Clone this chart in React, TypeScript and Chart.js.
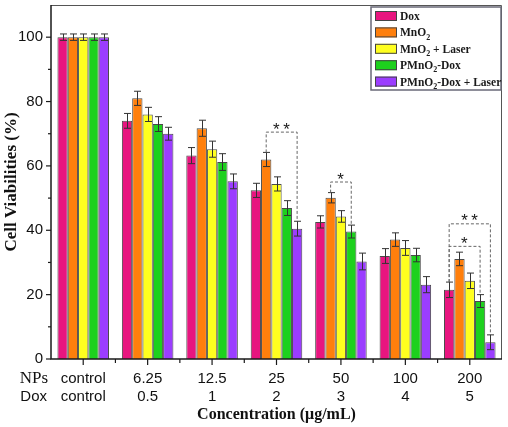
import React, { useEffect, useRef } from "react";
import { Chart, registerables } from "chart.js";
Chart.register(...registerables);

// ---------- data ----------
const npLabels = ["control", "6.25", "12.5", "25", "50", "100", "200"];
const doxLabels = ["control", "0.5", "1", "2", "3", "4", "5"];
const seriesNames = ["Dox", "MnO₂", "MnO₂ + Laser", "PMnO₂-Dox", "PMnO₂-Dox + Laser"];
const seriesColors = ["#E8157F", "#FF7F0C", "#FFFF1F", "#1DD11D", "#9B3DFF"];

const doxValues = [100, 74, 63.2, 52.4, 42.6, 32, 21.5];
const doxErrors = [1, 2.3, 2.5, 2.2, 1.9, 2.3, 2.4];
const mnoValues = [100, 81, 71.7, 62, 50.1, 37.1, 31.1];
const mnoErrors = [1, 2.2, 2.5, 2.2, 1.6, 2.1, 2.1];
const mnoLaserValues = [100, 76, 65.2, 54.4, 44.3, 34.5, 24.3];
const mnoLaserErrors = [1, 2.2, 2.5, 2.2, 1.8, 2.3, 2.4];
const pmnoDoxValues = [100, 73, 61.2, 46.9, 39.6, 32.3, 18];
const pmnoDoxErrors = [1, 2.3, 2.6, 2.3, 2.0, 2.1, 2.0];
const pmnoDoxLaserValues = [100, 70, 55.2, 40.5, 30.3, 23.1, 5.2];
const pmnoDoxLaserErrors = [1, 2.0, 2.3, 2.3, 2.6, 2.5, 2.3];

const allValues = [doxValues, mnoValues, mnoLaserValues, pmnoDoxValues, pmnoDoxLaserValues];
const allErrors = [doxErrors, mnoErrors, mnoLaserErrors, pmnoDoxErrors, pmnoDoxLaserErrors];

// significance brackets
const sigCategory = [3, 4, 6, 6];
const sigFromSeries = [1, 1, 0, 0];
const sigToSeries = [4, 3, 3, 4];
const sigTopValue = [70.5, 55, 35, 42];
const sigLabel = ["**", "*", "*", "**"];

const yMax = 110;
const yStep = 20;
const xTitle = "Concentration (μg/mL)";
const yTitle = "Cell Viabilities (%)";
const rowNames = ["NPs", "Dox"];

// ---------- helpers ----------
function drawRich(ctx: CanvasRenderingContext2D, text: string, x: number, y: number, size: number, family: string, weight: string) {
  let cx = x;
  for (const ch of Array.from(text)) {
    if (ch === "₂") {
      ctx.font = `${weight} ${Math.round(size * 0.68)}px ${family}`;
      ctx.fillText("2", cx, y + size * 0.28);
      cx += ctx.measureText("2").width;
    } else {
      ctx.font = `${weight} ${size}px ${family}`;
      ctx.fillText(ch, cx, y);
      cx += ctx.measureText(ch).width;
    }
  }
}

const overlayPlugin = {
  id: "overlay",
  afterDatasetsDraw(chart: any) {
    const ctx: CanvasRenderingContext2D = chart.ctx;
    const ys = chart.scales.y;
    ctx.save();
    // error bars
    ctx.strokeStyle = "#333";
    ctx.lineWidth = 1;
    chart.data.datasets.forEach((ds: any, i: number) => {
      const meta = chart.getDatasetMeta(i);
      meta.data.forEach((bar: any, j: number) => {
        const v = ds.data[j];
        const e = allErrors[i][j];
        const px = Math.round(bar.x) + 0.5;
        const yt = ys.getPixelForValue(v + e);
        const yb = ys.getPixelForValue(v - e);
        ctx.beginPath();
        ctx.moveTo(px, yt);
        ctx.lineTo(px, yb);
        ctx.moveTo(px - 3.5, yt);
        ctx.lineTo(px + 3.5, yt);
        ctx.moveTo(px - 3.5, yb);
        ctx.lineTo(px + 3.5, yb);
        ctx.stroke();
      });
    });
    // significance brackets
    ctx.strokeStyle = "#666";
    ctx.setLineDash([3, 2]);
    sigCategory.forEach((c, k) => {
      const a = sigFromSeries[k];
      const b = sigToSeries[k];
      const xa = chart.getDatasetMeta(a).data[c].x;
      const xb = chart.getDatasetMeta(b).data[c].x;
      const yTop = ys.getPixelForValue(sigTopValue[k]);
      const ya = ys.getPixelForValue(allValues[a][c] + allErrors[a][c]);
      const yb = ys.getPixelForValue(allValues[b][c] + allErrors[b][c]);
      ctx.beginPath();
      ctx.moveTo(xa, ya);
      ctx.lineTo(xa, yTop);
      ctx.lineTo(xb, yTop);
      ctx.lineTo(xb, yb);
      ctx.stroke();
    });
    ctx.setLineDash([]);
    ctx.fillStyle = "#1a1a1a";
    ctx.textAlign = "center";
    ctx.textBaseline = "alphabetic";
    ctx.font = "17px 'Liberation Sans'";
    sigCategory.forEach((c, k) => {
      const xa = chart.getDatasetMeta(sigFromSeries[k]).data[c].x;
      const xb = chart.getDatasetMeta(sigToSeries[k]).data[c].x;
      const yTop = ys.getPixelForValue(sigTopValue[k]);
      (ctx as any).letterSpacing = "3.5px";
      ctx.fillText(sigLabel[k], (xa + xb) / 2 + 1.5, yTop + 2.5);
      (ctx as any).letterSpacing = "0px";
    });
    ctx.restore();
  },
  afterDraw(chart: any) {
    const ctx: CanvasRenderingContext2D = chart.ctx;
    const area = chart.chartArea;
    const xs = chart.scales.x;
    const ys = chart.scales.y;
    ctx.save();
    // frame top/right
    ctx.strokeStyle = "#555";
    ctx.lineWidth = 1;
    ctx.beginPath();
    ctx.moveTo(area.left, area.top + 0.5);
    ctx.lineTo(area.right - 0.5, area.top + 0.5);
    ctx.lineTo(area.right - 0.5, area.bottom);
    ctx.stroke();
    // axes left/bottom
    ctx.strokeStyle = "#1a1a1a";
    ctx.lineWidth = 1.5;
    ctx.beginPath();
    ctx.moveTo(area.left, area.top);
    ctx.lineTo(area.left, area.bottom);
    ctx.lineTo(area.right, area.bottom);
    ctx.stroke();
    // y ticks
    ctx.lineWidth = 1.2;
    for (let v = 0; v <= yMax - yStep / 2; v += yStep / 2) {
      const py = ys.getPixelForValue(v);
      const major = v % yStep === 0;
      ctx.beginPath();
      ctx.moveTo(area.left, py);
      ctx.lineTo(area.left - (major ? 5 : 3), py);
      ctx.stroke();
    }
    // x ticks
    const n = npLabels.length;
    for (let i = 0; i < n; i++) {
      const px = xs.getPixelForValue(i);
      ctx.beginPath();
      ctx.moveTo(px, area.bottom);
      ctx.lineTo(px, area.bottom + 6);
      ctx.stroke();
      if (i < n - 1) {
        const mx = (px + xs.getPixelForValue(i + 1)) / 2;
        ctx.beginPath();
        ctx.moveTo(mx, area.bottom);
        ctx.lineTo(mx, area.bottom + 4);
        ctx.stroke();
      }
    }
    // row names
    ctx.fillStyle = "#111";
    ctx.textAlign = "right";
    ctx.textBaseline = "middle";
    ctx.font = "17px 'Liberation Serif'";
    ctx.fillText(rowNames[0], area.left - 3, area.bottom + 20);
    ctx.font = "15px 'Liberation Sans'";
    ctx.fillText(rowNames[1], area.left - 4, area.bottom + 38);
    // legend
    const lw = 130, lh = 83;
    const lx = area.right - lw - 1;
    const ly = area.top + 2;
    ctx.fillStyle = "#fff";
    ctx.fillRect(lx, ly, lw, lh);
    ctx.strokeStyle = "#6a6a78";
    ctx.lineWidth = 1.5;
    ctx.strokeRect(lx, ly, lw, lh);
    ctx.textAlign = "left";
    ctx.textBaseline = "alphabetic";
    seriesNames.forEach((name, i) => {
      const cy = ly + 9 + i * 16.4;
      ctx.fillStyle = seriesColors[i];
      ctx.fillRect(lx + 4, cy - 5, 22, 10);
      ctx.strokeStyle = "#444";
      ctx.lineWidth = 1;
      ctx.strokeRect(lx + 4.5, cy - 4.5, 21, 9);
      ctx.fillStyle = "#1a1a1a";
      drawRich(ctx, name, lx + 29, cy + 4, 11.5, "'Liberation Serif'", "bold");
    });
    ctx.restore();
  },
};

function zeroPad(s: any) {
  s.paddingTop = 0;
  s.paddingBottom = 0;
  s.paddingLeft = 0;
  s.paddingRight = 0;
}

export default function App() {
  const ref = useRef<HTMLCanvasElement | null>(null);
  useEffect(() => {
    document.body.style.margin = "0";
    if (!ref.current) return;
    const chart = new Chart(ref.current, {
      type: "bar",
      data: {
        labels: npLabels.map((l, i) => [l, doxLabels[i]]),
        datasets: seriesNames.map((name, i) => ({
          label: name,
          data: allValues[i],
          backgroundColor: seriesColors[i],
          borderColor: "#4a4a4a",
          borderWidth: 1,
          barPercentage: 1,
          categoryPercentage: 0.8,
        })),
      },
      options: {
        responsive: false,
        animation: false,
        devicePixelRatio: 1,
        layout: { padding: { top: 5, right: 6, left: 0, bottom: 0 } },
        plugins: { legend: { display: false }, tooltip: { enabled: false } },
        scales: {
          x: {
            grid: { display: false, drawTicks: false, tickLength: 0 },
            border: { display: false },
            ticks: {
              color: "#111",
              padding: 11,
              maxRotation: 0,
              autoSkip: false,
              font: { family: "'Liberation Sans'", size: 15, lineHeight: 1.2 },
            },
            title: {
              display: true,
              text: xTitle,
              color: "#111",
              padding: { top: 0, bottom: 3 },
              font: { family: "'Liberation Serif'", size: 16, weight: "bold", lineHeight: 1.2 },
            },
            afterFit: (s: any) => { s.height = 68; zeroPad(s); },
          },
          y: {
            min: 0,
            max: yMax,
            grid: { display: false, drawTicks: false, tickLength: 0 },
            border: { display: false },
            ticks: {
              stepSize: yStep,
              includeBounds: false,
              color: "#111",
              padding: 8,
              font: { family: "'Liberation Sans'", size: 15 },
            },
            title: {
              display: true,
              text: yTitle,
              color: "#111",
              padding: { top: 1, bottom: 0 },
              font: { family: "'Liberation Serif'", size: 17, weight: "bold", lineHeight: 1.2 },
            },
            afterFit: (s: any) => { s.width = 51; zeroPad(s); },
          },
        },
      },
      plugins: [overlayPlugin],
    } as any);
    return () => chart.destroy();
  }, []);
  return (
    <div style={{ width: 508, height: 427, background: "#fff" }}>
      <canvas ref={ref} width={508} height={427} style={{ display: "block" }} />
    </div>
  );
}
